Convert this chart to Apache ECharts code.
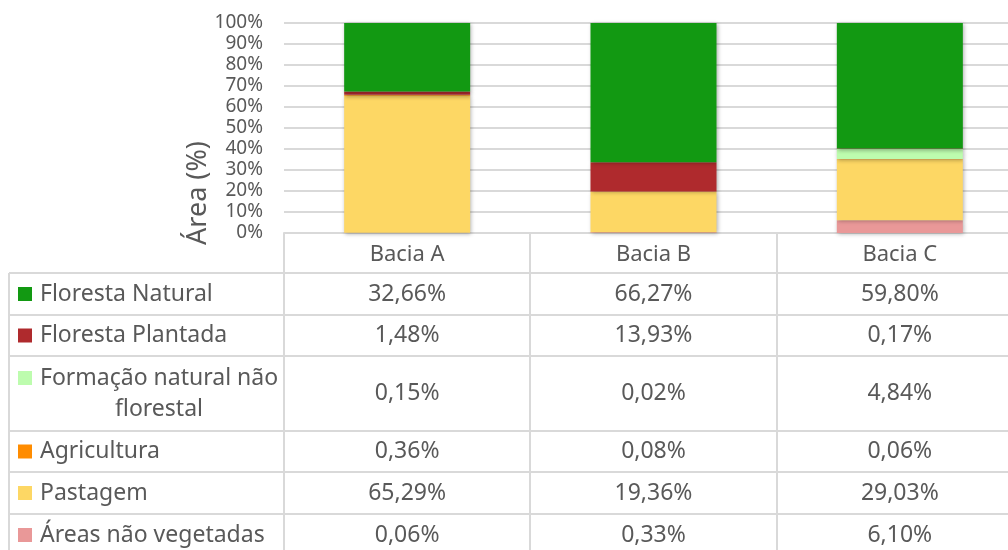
<!DOCTYPE html>
<html>
<head>
<meta charset="utf-8">
<script src="https://cdn.jsdelivr.net/npm/echarts@6/dist/echarts.min.js"></script>
<style>
html, body { margin: 0; padding: 0; background: #fff; overflow: hidden; }
#chart { width: 1024px; height: 550px; }
</style>
</head>
<body>
<div id="chart"></div>
<script>
// dados (% da área de cada bacia)
var bacias = ['Bacia A', 'Bacia B', 'Bacia C'];
var classes = ['Floresta Natural', 'Floresta Plantada', 'Formação natural não florestal', 'Agricultura', 'Pastagem', 'Áreas não vegetadas'];
var florestaNatural = [32.66, 66.27, 59.80];
var florestaPlantada = [1.48, 13.93, 0.17];
var formacaoNatural = [0.15, 0.02, 4.84];
var agricultura = [0.36, 0.08, 0.06];
var pastagem = [65.29, 19.36, 29.03];
var areasNaoVeg = [0.06, 0.33, 6.10];
var valores = [florestaNatural, florestaPlantada, formacaoNatural, agricultura, pastagem, areasNaoVeg];

var cores = ['#129912', '#AF2A2D', '#BDFCAE', '#FF8C00', '#FDD764', '#E99898'];
var cinza = '#595959';
var linha = '#D9D9D9';
var fonte = '"Noto Sans", sans-serif';

// o div é um pouco mais largo que a janela: a última coluna fica cortada como no original
var myChart = echarts.init(document.getElementById('chart'));

// empilha de baixo pra cima (ordem inversa da tabela)
var series = [];
for (var i = classes.length - 1; i >= 0; i--) {
    series.push({
        name: classes[i],
        type: 'bar',
        stack: 'total',
        barWidth: 126,
        data: valores[i],
        itemStyle: {
            color: cores[i],
            shadowBlur: 4,
            shadowColor: 'rgba(0,0,0,0.3)',
            shadowOffsetX: 1,
            shadowOffsetY: 1
        }
    });
}

var option = {
    animation: false,
    grid: { left: 284, top: 23, width: 739, height: 210 },
    xAxis: {
        type: 'category',
        data: bacias,
        axisLine: { show: true, lineStyle: { color: linha, width: 2 } },
        axisTick: { show: false },
        axisLabel: { color: cinza, fontSize: 22, fontFamily: fonte, margin: 11 }
    },
    yAxis: {
        type: 'value',
        min: 0,
        max: 100,
        interval: 10,
        axisLine: { show: false },
        axisTick: { show: false },
        axisLabel: { formatter: '{value}%', color: cinza, fontSize: 19, fontFamily: fonte, margin: 21 },
        splitLine: { lineStyle: { color: linha, width: 2 } }
    },
    series: series
};
myChart.setOption(option);

// tabela de dados abaixo do gráfico
var topos = [273, 315, 356, 431, 472, 514, 556];
var fmt = function (v) { return v.toFixed(2).replace('.', ',') + '%'; };
var centros = bacias.map(function (b) { return myChart.convertToPixel({ xAxisIndex: 0 }, b); });
var banda = centros[1] - centros[0];
var fonteTab = '23px ' + fonte;
var g = [];

// bordas
for (var r = 0; r < topos.length; r++) {
    g.push({ type: 'line', shape: { x1: 9, y1: topos[r], x2: 1024, y2: topos[r] }, style: { stroke: linha, lineWidth: 2 } });
}
g.push({ type: 'line', shape: { x1: 9, y1: 273, x2: 9, y2: 556 }, style: { stroke: linha, lineWidth: 2 } });
for (var c = 0; c <= centros.length; c++) {
    var xb = Math.round(centros[0] + banda * (c - 0.5));
    g.push({ type: 'line', shape: { x1: xb, y1: 233, x2: xb, y2: 556 }, style: { stroke: linha, lineWidth: 2 } });
}

for (var k = 0; k < classes.length; k++) {
    var yc = (topos[k] + topos[k + 1]) / 2;
    // chave da legenda
    if (k === 2) {
        g.push({ type: 'rect', shape: { x: 18, y: 371, width: 14, height: 14 }, style: { fill: cores[k] } });
        g.push({ type: 'text', style: { text: 'Formação natural não', x: 40, y: 378, fill: cinza, font: fonteTab, textAlign: 'left', textVerticalAlign: 'middle' } });
        g.push({ type: 'text', style: { text: 'florestal', x: 159, y: 409, fill: cinza, font: fonteTab, textAlign: 'center', textVerticalAlign: 'middle' } });
    } else {
        g.push({ type: 'rect', shape: { x: 18, y: yc - 7, width: 14, height: 14 }, style: { fill: cores[k] } });
        g.push({ type: 'text', style: { text: classes[k], x: 40, y: yc, fill: cinza, font: fonteTab, textAlign: 'left', textVerticalAlign: 'middle' } });
    }
    for (var j = 0; j < bacias.length; j++) {
        g.push({ type: 'text', style: { text: fmt(valores[k][j]), x: centros[j], y: yc, fill: cinza, font: fonteTab, textAlign: 'center', textVerticalAlign: 'middle' } });
    }
}

// título do eixo y
g.push({ type: 'text', x: 198, y: 193, rotation: Math.PI / 2, style: { text: 'Área (%)', x: 0, y: 0, fill: cinza, font: '27px ' + fonte, textAlign: 'center', textVerticalAlign: 'middle' } });

myChart.setOption({ graphic: g });
</script>
</body>
</html>
